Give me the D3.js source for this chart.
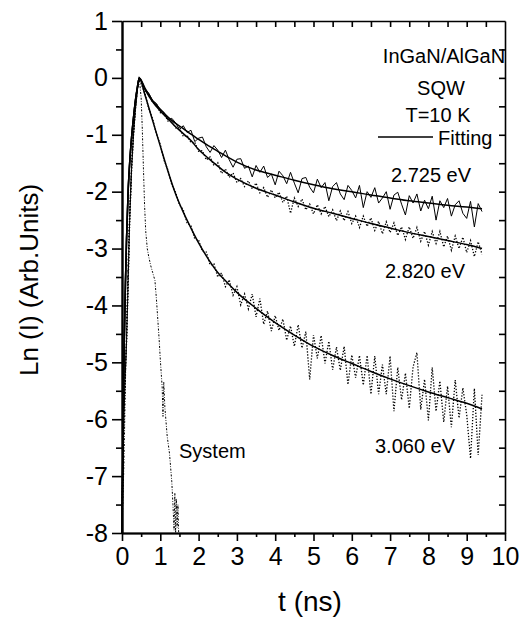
<!DOCTYPE html>
<html>
<head>
<meta charset="utf-8">
<script src="https://d3js.org/d3.v7.min.js"></script>
<style>
  body { margin: 0; background: #fff; }
  svg text { font-family: "Liberation Sans", Arial, Helvetica, sans-serif; fill: #000; }
</style>
</head>
<body>
<div class="chart"></div>
<script>
// ---- DATA ----
// axis ticks
const xTicks = [0, 1, 2, 3, 4, 5, 6, 7, 8, 9, 10];
const xMinor = [0.5, 1.5, 2.5, 3.5, 4.5, 5.5, 6.5, 7.5, 8.5, 9.5];
const yTicks = [1, 0, -1, -2, -3, -4, -5, -6, -7, -8];
const yMinor = [0.5, -0.5, -1.5, -2.5, -3.5, -4.5, -5.5, -6.5, -7.5];

// rising edge, shared by the measured curves
const riseT = [0, 0.04, 0.08, 0.12, 0.16, 0.2, 0.25, 0.3, 0.35, 0.4, 0.45];
const riseData = [-7.6, -6.2, -5.3, -4.6, -3.6, -2.5, -1.6, -1.0, -0.55, -0.2, 0];
const riseFitT = [0, 0.03, 0.06, 0.09, 0.12, 0.16, 0.2, 0.25, 0.3, 0.35, 0.4, 0.45];
const riseFit = [-8, -6.0, -4.6, -3.6, -2.8, -2.0, -1.5, -1.05, -0.7, -0.4, -0.17, 0];

// decay time grid of the measured curves (ns)
const tDecay = [0.5, 0.6, 0.7, 0.8, 0.9, 1.0, 1.1, 1.2, 1.3, 1.4, 1.5, 1.6, 1.7, 1.8, 1.9,
  2.0, 2.1, 2.2, 2.3, 2.4, 2.5, 2.6, 2.7, 2.8, 2.9, 3.0, 3.1, 3.2, 3.3, 3.4, 3.5, 3.6, 3.7,
  3.8, 3.9, 4.0, 4.1, 4.2, 4.3, 4.4, 4.5, 4.6, 4.7, 4.8, 4.9, 5.0, 5.1, 5.2, 5.3, 5.4, 5.5,
  5.6, 5.7, 5.8, 5.9, 6.0, 6.1, 6.2, 6.3, 6.4, 6.5, 6.6, 6.7, 6.8, 6.9, 7.0, 7.1, 7.2, 7.3,
  7.4, 7.5, 7.6, 7.7, 7.8, 7.9, 8.0, 8.1, 8.2, 8.3, 8.4, 8.5, 8.6, 8.7, 8.8, 8.9, 9.0, 9.1,
  9.2, 9.3, 9.4];

const data2725 = [-0.05, -0.20, -0.27, -0.40, -0.45, -0.57, -0.61, -0.74, -0.71, -0.79,
  -0.91, -0.84, -0.96, -0.92, -1.12, -1.06, -1.04, -1.21, -1.31, -1.19, -1.27, -1.40, -1.27,
  -1.44, -1.57, -1.43, -1.42, -1.59, -1.55, -1.74, -1.54, -1.66, -1.55, -1.75, -1.69, -1.88,
  -1.64, -1.72, -1.86, -1.66, -1.85, -2.02, -1.77, -1.75, -1.92, -2.02, -1.78, -1.93, -1.84,
  -2.16, -1.91, -1.84, -2.04, -2.14, -1.89, -1.98, -2.11, -1.89, -2.28, -2.00, -2.10, -1.93,
  -2.20, -2.11, -2.00, -2.31, -2.06, -2.01, -2.22, -2.41, -2.07, -2.20, -2.04, -2.34, -2.15,
  -2.30, -2.08, -2.50, -2.16, -2.28, -2.12, -2.43, -2.23, -2.16, -2.38, -2.47, -2.17, -2.62,
  -2.21, -2.35];

const data2820 = [-0.06, -0.22, -0.29, -0.43, -0.47, -0.61, -0.63, -0.76, -0.76, -0.88,
  -0.88, -1.03, -1.01, -1.14, -1.13, -1.29, -1.28, -1.44, -1.39, -1.54, -1.49, -1.68, -1.60,
  -1.75, -1.67, -1.84, -1.77, -1.91, -1.81, -1.95, -1.85, -2.02, -1.93, -2.10, -1.97, -2.11,
  -2.01, -2.19, -2.08, -2.38, -2.11, -2.26, -2.13, -2.32, -2.22, -2.39, -2.23, -2.39, -2.26,
  -2.44, -2.32, -2.51, -2.34, -2.51, -2.35, -2.56, -2.43, -2.63, -2.43, -2.61, -2.46, -2.68,
  -2.52, -2.74, -2.53, -2.72, -2.55, -2.77, -2.62, -2.84, -2.62, -2.82, -2.63, -2.87, -2.70,
  -2.94, -2.70, -2.91, -2.70, -2.97, -2.78, -3.03, -2.78, -3.00, -2.80, -3.07, -2.86, -3.14,
  -2.88, -3.10];

const data3060 = [-0.10, -0.28, -0.54, -0.72, -0.99, -1.17, -1.45, -1.62, -1.88, -2.01,
  -2.23, -2.32, -2.55, -2.60, -2.83, -2.85, -3.05, -3.06, -3.29, -3.27, -3.50, -3.43, -3.67,
  -3.55, -3.82, -3.67, -3.99, -3.80, -4.06, -3.80, -4.20, -3.88, -4.33, -4.10, -4.45, -4.18,
  -4.44, -4.24, -4.61, -4.36, -4.72, -4.34, -4.75, -4.46, -5.30, -4.52, -4.93, -4.53, -5.02,
  -4.63, -5.13, -4.73, -5.14, -4.72, -5.39, -4.87, -5.27, -4.88, -5.40, -4.88, -5.56, -4.89,
  -5.56, -5.04, -5.56, -4.89, -5.86, -5.09, -5.66, -5.19, -5.81, -5.08, -4.83, -5.83, -5.30,
  -6.02, -5.09, -5.86, -5.33, -6.05, -5.42, -6.14, -5.31, -5.98, -5.45, -5.92, -6.69, -5.46,
  -6.63, -5.57];

// fitted curves
const tFit = [0.6, 0.8, 1.0, 1.2, 1.4, 1.6, 1.8, 2.0, 2.25, 2.5, 2.75, 3.0, 3.5, 4.0, 4.5,
  5.0, 5.5, 6.0, 6.5, 7.0, 7.5, 8.0, 8.5, 9.0, 9.4];
const fit2725 = [-0.18, -0.40, -0.55, -0.69, -0.80, -0.89, -0.99, -1.08, -1.19, -1.29, -1.39,
  -1.48, -1.62, -1.71, -1.80, -1.88, -1.95, -2.00, -2.06, -2.11, -2.16, -2.20, -2.24, -2.27, -2.30];
const fit2820 = [-0.20, -0.42, -0.58, -0.72, -0.86, -0.98, -1.10, -1.26, -1.41, -1.55, -1.68,
  -1.78, -1.94, -2.06, -2.18, -2.29, -2.38, -2.47, -2.56, -2.64, -2.72, -2.79, -2.86, -2.93, -3.00];
const fit3060 = [-0.30, -0.75, -1.20, -1.64, -2.04, -2.36, -2.64, -2.90, -3.18, -3.42, -3.60,
  -3.77, -4.05, -4.30, -4.52, -4.72, -4.88, -5.02, -5.16, -5.29, -5.41, -5.52, -5.62, -5.72, -5.82];

// system response
const systemT = [0, 0.05, 0.1, 0.15, 0.2, 0.25, 0.3, 0.35, 0.4, 0.45, 0.5, 0.53, 0.56, 0.59,
  0.62, 0.66, 0.7, 0.75, 0.8, 0.86, 0.9, 0.94, 0.97, 1.0, 1.03, 1.05, 1.07, 1.09, 1.12, 1.15,
  1.18, 1.21, 1.24, 1.27, 1.3, 1.33, 1.36, 1.38, 1.4, 1.42, 1.44, 1.46, 1.48];
const systemY = [-8, -6.8, -5.0, -3.4, -2.3, -1.5, -0.95, -0.55, -0.25, 0, -0.35, -0.9, -1.6,
  -2.25, -2.7, -3.0, -3.15, -3.3, -3.42, -3.56, -3.9, -4.3, -4.6, -4.95, -5.25, -5.45, -5.95,
  -5.35, -5.8, -6.05, -6.3, -6.45, -6.6, -6.85, -7.1, -7.5, -7.95, -7.3, -8.0, -7.4, -7.9,
  -7.5, -8.0];

// ---- DRAW ----
const width = 527, height = 620;
const svg = d3.select(".chart").append("svg")
    .attr("width", width)
    .attr("height", height);

const x = d3.scaleLinear().domain([0, 10]).range([122, 505]);
const y = d3.scaleLinear().domain([-8, 1]).range([533, 21]);

const pts = (ts, ys) => d3.zip(ts, ys);
const line = d3.line().x(d => x(d[0])).y(d => y(d[1]));
const smooth = d3.line().x(d => x(d[0])).y(d => y(d[1])).curve(d3.curveMonotoneX);

const g = svg.append("g").attr("class", "marks");

// system response (dash-dot)
g.append("path")
    .attr("d", line(pts(systemT, systemY)))
    .attr("fill", "none")
    .attr("stroke", "#000")
    .attr("stroke-width", 1)
    .attr("stroke-dasharray", "2,1.5,0.8,1.5");

// measured curves
const measured = [
  { ys: data2820, dash: "1.3,1.7", w: 1.3 },
  { ys: data3060, dash: "1.3,1.7", w: 1.3 },
  { ys: data2725, dash: null, w: 1 }
];
measured.forEach(s => {
  g.append("path")
      .attr("d", line(pts(riseT, riseData).concat(pts(tDecay, s.ys))))
      .attr("fill", "none")
      .attr("stroke", "#000")
      .attr("stroke-width", s.w)
      .attr("stroke-dasharray", s.dash);
});

// fits
[fit2725, fit2820, fit3060].forEach(f => {
  g.append("path")
      .attr("d", smooth(pts(riseFitT, riseFit).concat(pts(tFit, f))))
      .attr("fill", "none")
      .attr("stroke", "#000")
      .attr("stroke-width", 1.5);
});

// axes
const fmt = d => String(d);
const axes = svg.append("g").attr("class", "axes");

const bottom = axes.append("g").attr("transform", `translate(0,${y(-8)})`)
    .call(d3.axisBottom(x).tickValues(xTicks).tickFormat(fmt).tickSize(8).tickPadding(6).tickSizeOuter(0));
axes.append("g").attr("transform", `translate(0,${y(-8)})`)
    .call(d3.axisBottom(x).tickValues(xMinor).tickFormat("").tickSize(4).tickSizeOuter(0));

const left = axes.append("g").attr("transform", `translate(${x(0)},0)`)
    .call(d3.axisLeft(y).tickValues(yTicks).tickFormat(fmt).tickSize(10).tickPadding(4).tickSizeOuter(0));
axes.append("g").attr("transform", `translate(${x(0)},0)`)
    .call(d3.axisLeft(y).tickValues(yMinor).tickFormat("").tickSize(6).tickSizeOuter(0));

axes.append("g").attr("transform", `translate(0,${y(1)})`)
    .call(d3.axisTop(x).tickValues(xMinor.concat(xTicks.slice(1, 10))).tickFormat("").tickSize(-6).tickSizeOuter(0));
axes.append("g").attr("transform", `translate(${x(10)},0)`)
    .call(d3.axisRight(y).tickValues(yMinor.concat(yTicks.slice(1, 9))).tickFormat("").tickSize(-6).tickSizeOuter(0));

axes.selectAll("path.domain").attr("stroke", "#000").attr("stroke-width", 1.6);
axes.selectAll(".tick line").attr("stroke", "#000").attr("stroke-width", 1.6);
axes.selectAll(".tick text").style("font-size", "25px");
bottom.select("path.domain").attr("stroke-width", 2.2);
left.select("path.domain").attr("stroke-width", 2.2);

// axis titles
svg.append("text")
    .attr("x", 310).attr("y", 611)
    .attr("text-anchor", "middle")
    .style("font-size", "28px")
    .text("t (ns)");
svg.append("text")
    .attr("transform", "translate(38,280) rotate(-90)")
    .attr("text-anchor", "middle")
    .style("font-size", "26px")
    .text("Ln (I) (Arb.Units)");

// annotations
const note = (txt, px, py, anchor) => svg.append("text")
    .attr("x", px).attr("y", py)
    .attr("text-anchor", anchor || "start")
    .style("font-size", "20px")
    .text(txt);

note("InGaN/AlGaN", 444, 63, "middle");
note("SQW", 441, 95, "middle");
note("T=10 K", 438, 122, "middle");
svg.append("line")
    .attr("x1", 378).attr("x2", 433).attr("y1", 137).attr("y2", 137)
    .attr("stroke", "#000").attr("stroke-width", 1.5);
note("Fitting", 438, 145);
note("2.725 eV", 391, 182);
note("2.820 eV", 385, 278);
note("3.060 eV", 375, 453);
note("System", 179, 458);
</script>
</body>
</html>
